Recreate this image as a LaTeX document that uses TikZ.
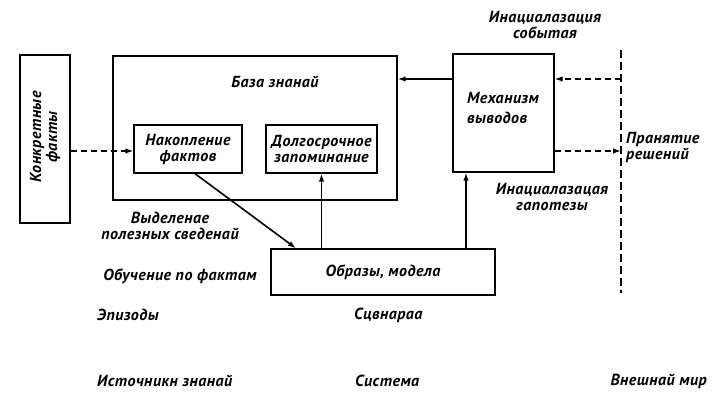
\documentclass[tikz,border=0pt]{standalone}
\usepackage{fontspec}
\setmainfont{PT Sans}
\usetikzlibrary{arrows.meta,calc}
\begin{document}
\begin{tikzpicture}[x=1pt,y=-1pt,
  box/.style={draw,line width=1.3pt,inner sep=0pt},
  lbl/.style={font=\bfseries\itshape\fontsize{16}{16}\selectfont\addfontfeature{LetterSpace=3},align=center,inner sep=1pt},
  arr/.style={line width=1.6pt,-{Latex[length=8pt,width=5.5pt]}},
  darr/.style={line width=1.3pt,dash pattern=on 6pt off 4pt,-{Latex[length=8pt,width=5.5pt]}},
  dline/.style={line width=1.3pt,dash pattern=on 8pt off 4pt}]
\useasboundingbox (0,0) rectangle (715,420);
% boxes
\node[box,minimum width=50pt,minimum height=168pt] (kf) at (45,139) {};
\node[lbl,rotate=90] (kft) at (45,137) {Конкретные\\факты};
\node[box,minimum width=284pt,minimum height=144pt] (kb) at (255,128) {};
\node[lbl] (kbt) at (275,82) {База знанай};
\node[box,minimum width=108pt,minimum height=48pt,lbl] (nak) at (188,149) {Накопление\\фактов};
\node[box,minimum width=111pt,minimum height=48pt,lbl] (dolg) at (321.5,149) {Долгосрочное\\запоминание};
\node[box,minimum width=101pt,minimum height=118pt] (mech) at (503.5,113) {};
\node[lbl,align=left,anchor=west] (mecht) at (466,108) {Механизм\\[4pt]выводов};
\node[box,minimum width=224pt,minimum height=46pt,lbl] (obr) at (383,272) {Образы, модела};
% dashed boundary
\coordinate (vt) at (621,50);
\coordinate (vb) at (621,293);
\draw[dline] (vt) -- (vb);
\coordinate (r1) at (0,79);
\coordinate (r2) at (0,151);
\coordinate (c3) at (466,0);
% connectors
\draw[arr] (mech.west |- r1) -- (kb.east |- r1);
\draw[darr] (vt |- r1) -- (mech.east |- r1);
\draw[darr] (mech.east |- r2) -- (vt |- r2);
\draw[darr] (kf.east |- r2) -- (nak.west |- r2);
\draw[arr] ([xshift=7pt]nak.south) -- ([xshift=-87pt]obr.north);
\draw[arr] (dolg.south |- obr.north) -- (dolg.south);
\draw[arr] (c3 |- obr.north) -- (c3 |- mech.south);
% labels
\node[lbl] (l1) at (545,25) {Инацuалазацuя\\событая};
\node[lbl,anchor=west,align=left] (l2) at (625,147) {Пранятие\\решений};
\node[lbl] (l3) at (552,197) {Инацuалазацая\\гапотезы};
\node[lbl] (l4) at (170,226) {Выделенае\\полезных сведенай};
\node[lbl] (l5) at (180,276) {Обучение по фактам};
\node[lbl,anchor=west] (b1) at (96,315) {Эпизоды};
\node[lbl,anchor=west] (b2) at (353,315) {Сцвнараа};
\node[lbl,anchor=west] (b3) at (96,381) {Источникн знанай};
\node[lbl,anchor=west] (b4) at (354,381) {Система};
\node[lbl,anchor=east] (b5) at (708,381) {Внешнай мир};
\end{tikzpicture}
\end{document}
